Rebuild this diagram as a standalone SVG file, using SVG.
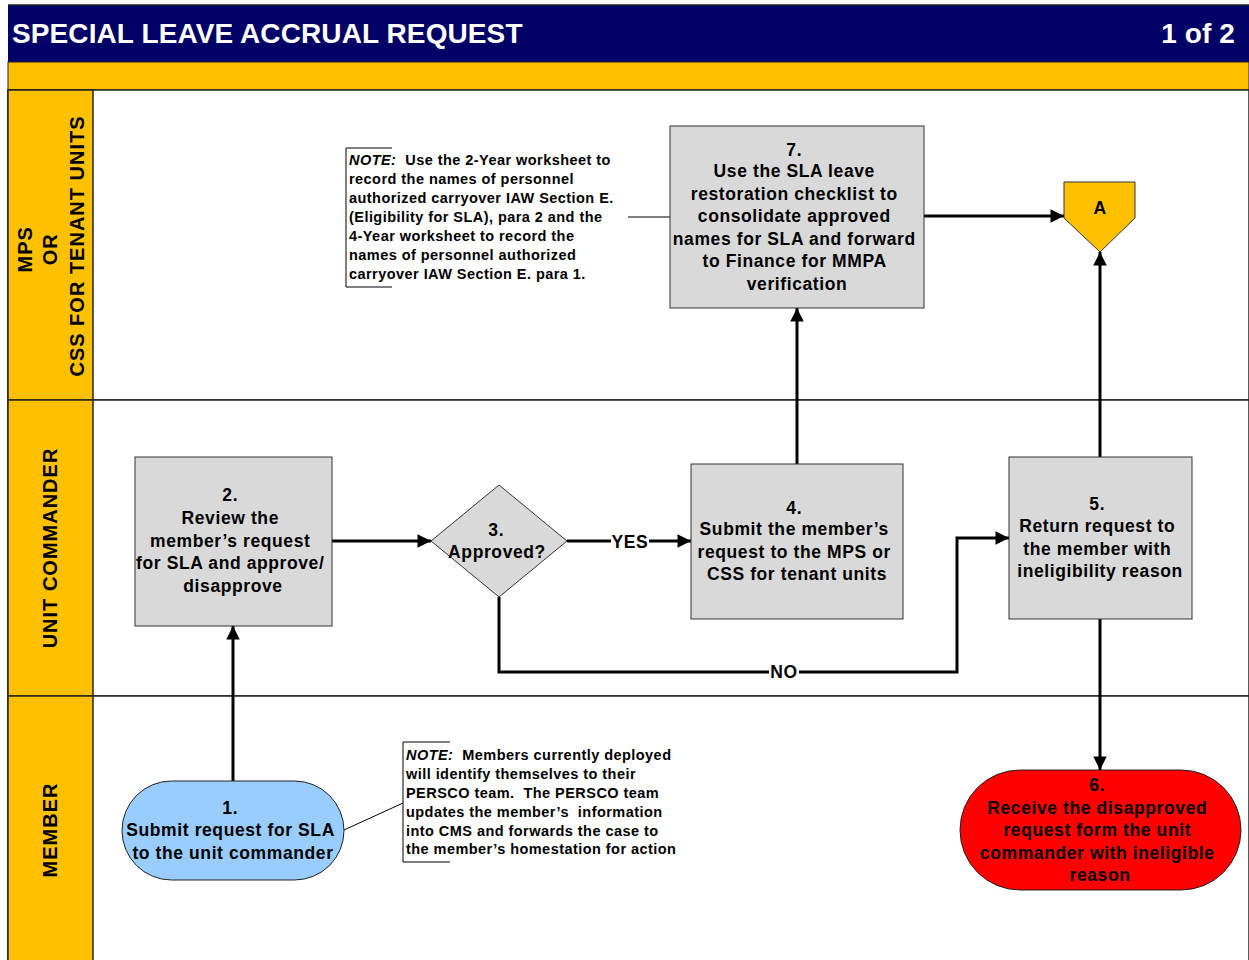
<svg xmlns="http://www.w3.org/2000/svg" width="1249" height="960" viewBox="0 0 1249 960">
  <style>
    text { font-family: "Liberation Sans", Arial, sans-serif; font-weight: bold; fill: #000; }
    .title { font-size: 28px; fill: #fff; letter-spacing: 0.1px; }
    .lane { font-size: 20px; text-anchor: middle; letter-spacing: 1px; }
    .node { font-size: 17.5px; text-anchor: middle; letter-spacing: 0.6px; }
    .note { font-size: 14.5px; letter-spacing: 0.45px; }
    .lbl { font-size: 17.5px; text-anchor: middle; letter-spacing: 0.6px; }
    .box { fill: #d9d9d9; stroke: #333; stroke-width: 1; }
    .flow { fill: none; stroke: #000; stroke-width: 3; }
    .thin { fill: none; stroke: #000; stroke-width: 1; }
    .lanebg { fill: #ffc000; stroke: #222; stroke-width: 1.5; }
  </style>
  <defs>
    <marker id="arrow" viewBox="0 0 10 10" refX="10" refY="5" markerWidth="5" markerHeight="4.5" markerUnits="strokeWidth" orient="auto">
      <path d="M0,0 L10,5 L0,10 z" fill="#000"/>
    </marker>
  </defs>

  <rect x="0" y="0" width="1249" height="960" fill="#fff"/>

  <!-- header band -->
  <g id="header">
    <rect x="8" y="5" width="1241" height="57" fill="#000066"/>
    <line x1="8" y1="5" x2="1249" y2="5" stroke="#222" stroke-width="1.5"/>
    <rect x="8" y="62" width="1241" height="28" fill="#ffc000" stroke="#222" stroke-width="1"/>
    <text class="title" x="12" y="43">SPECIAL LEAVE ACCRUAL REQUEST</text>
    <text class="title" x="1235" y="43" text-anchor="end">1 of 2</text>
  </g>

  <!-- swimlanes -->
  <g id="lanes">
    <rect x="8" y="90" width="1241" height="310" fill="#fff" stroke="#222" stroke-width="1.5"/>
    <rect x="8" y="400" width="1241" height="296" fill="#fff" stroke="#222" stroke-width="1.5"/>
    <rect x="8" y="696" width="1241" height="270" fill="#fff" stroke="#222" stroke-width="1.5"/>
    <rect class="lanebg" x="8" y="90" width="85" height="310"/>
    <rect class="lanebg" x="8" y="400" width="85" height="296"/>
    <rect class="lanebg" x="8" y="696" width="85" height="270"/>
    <text class="lane" transform="translate(50,246) rotate(-90)">
      <tspan x="0" y="-18">MPS</tspan>
      <tspan x="0" y="7">OR</tspan>
      <tspan x="0" y="34">CSS FOR TENANT UNITS</tspan>
    </text>
    <text class="lane" transform="translate(57,548) rotate(-90)">UNIT COMMANDER</text>
    <text class="lane" transform="translate(57,830) rotate(-90)">MEMBER</text>
  </g>

  <!-- connectors -->
  <g id="connectors">
    <line class="flow" x1="233" y1="781" x2="233" y2="626" marker-end="url(#arrow)"/>
    <line class="flow" x1="332" y1="541" x2="431" y2="541" marker-end="url(#arrow)"/>
    <line class="flow" x1="567" y1="541" x2="691" y2="541" marker-end="url(#arrow)"/>
    <polyline class="flow" points="499,597 499,672 957,672 957,538 1009,538" marker-end="url(#arrow)"/>
    <line class="flow" x1="797" y1="464" x2="797" y2="308" marker-end="url(#arrow)"/>
    <line class="flow" x1="924" y1="216" x2="1064" y2="216" marker-end="url(#arrow)"/>
    <line class="flow" x1="1100" y1="457" x2="1100" y2="252" marker-end="url(#arrow)"/>
    <line class="flow" x1="1100" y1="619" x2="1100" y2="770" marker-end="url(#arrow)"/>
    <!-- branch labels -->
    <rect x="611" y="532" width="38" height="18" fill="#fff"/>
    <text class="lbl" x="630" y="548">YES</text>
    <rect x="769" y="663" width="30" height="18" fill="#fff"/>
    <text class="lbl" x="784" y="678">NO</text>
    <!-- note leaders -->
    <line class="thin" x1="628" y1="217" x2="670" y2="217"/>
    <line class="thin" x1="344" y1="830" x2="403" y2="803"/>
  </g>

  <!-- step 1 -->
  <g id="node1">
    <rect x="122" y="781" width="222" height="99" rx="49.5" fill="#99ccff" stroke="#222" stroke-width="1"/>
    <text class="node">
      <tspan x="233" y="814">1.</tspan>
      <tspan x="233" y="836">Submit request for SLA</tspan>
      <tspan x="233" y="859">to the unit commander</tspan>
    </text>
  </g>

  <!-- step 2 -->
  <g id="node2">
    <rect class="box" x="135" y="457" width="197" height="169"/>
    <text class="node">
      <tspan x="233" y="501">2.</tspan>
      <tspan x="233" y="524">Review the</tspan>
      <tspan x="233" y="547">member’s request</tspan>
      <tspan x="233" y="569">for SLA and approve/</tspan>
      <tspan x="233" y="592">disapprove</tspan>
    </text>
  </g>

  <!-- step 3 decision -->
  <g id="node3">
    <polygon class="box" points="499,485 567,541 499,597 431,541"/>
    <text class="node">
      <tspan x="499" y="536">3.</tspan>
      <tspan x="497" y="558">Approved?</tspan>
    </text>
  </g>

  <!-- step 4 -->
  <g id="node4">
    <rect class="box" x="691" y="464" width="212" height="155"/>
    <text class="node">
      <tspan x="797" y="514">4.</tspan>
      <tspan x="797" y="535">Submit the member’s</tspan>
      <tspan x="797" y="558">request to the MPS or</tspan>
      <tspan x="797" y="580">CSS for tenant units</tspan>
    </text>
  </g>

  <!-- step 5 -->
  <g id="node5">
    <rect class="box" x="1009" y="457" width="183" height="162"/>
    <text class="node">
      <tspan x="1100" y="510">5.</tspan>
      <tspan x="1100" y="532">Return request to</tspan>
      <tspan x="1100" y="555">the member with</tspan>
      <tspan x="1100" y="577">ineligibility reason</tspan>
    </text>
  </g>

  <!-- step 6 -->
  <g id="node6">
    <rect x="960" y="770" width="281" height="120" rx="60" fill="#ff0000" stroke="#222" stroke-width="1"/>
    <text class="node">
      <tspan x="1100" y="791">6.</tspan>
      <tspan x="1100" y="814">Receive the disapproved</tspan>
      <tspan x="1100" y="836">request form the unit</tspan>
      <tspan x="1100" y="859">commander with ineligible</tspan>
      <tspan x="1100" y="881">reason</tspan>
    </text>
  </g>

  <!-- step 7 -->
  <g id="node7">
    <rect class="box" x="670" y="126" width="254" height="182"/>
    <text class="node">
      <tspan x="797" y="156">7.</tspan>
      <tspan x="797" y="177">Use the SLA leave</tspan>
      <tspan x="797" y="200">restoration checklist to</tspan>
      <tspan x="797" y="222">consolidate approved</tspan>
      <tspan x="797" y="245">names for SLA and forward</tspan>
      <tspan x="797" y="267">to Finance for MMPA</tspan>
      <tspan x="797" y="290">verification</tspan>
    </text>
  </g>

  <!-- off-page connector A -->
  <g id="connectorA">
    <polygon points="1064,182 1135,182 1135,218 1100,252 1064,218" fill="#ffc000" stroke="#333" stroke-width="1"/>
    <text class="node" x="1100" y="214">A</text>
  </g>

  <!-- annotation: worksheets -->
  <g id="note1">
    <polyline class="thin" points="392,148 346,148 346,287 392,287"/>
    <text class="note">
      <tspan x="349" y="165"><tspan font-style="italic">NOTE:</tspan>&#160; Use the 2-Year worksheet to</tspan>
      <tspan x="349" y="184">record the names of personnel</tspan>
      <tspan x="349" y="203">authorized carryover IAW Section E.</tspan>
      <tspan x="349" y="222">(Eligibility for SLA), para 2 and the</tspan>
      <tspan x="349" y="241">4-Year worksheet to record the</tspan>
      <tspan x="349" y="260">names of personnel authorized</tspan>
      <tspan x="349" y="279">carryover IAW Section E. para 1.</tspan>
    </text>
  </g>

  <!-- annotation: deployed members -->
  <g id="note2">
    <polyline class="thin" points="450,742 403,742 403,862 450,862"/>
    <text class="note">
      <tspan x="406" y="760"><tspan font-style="italic">NOTE:</tspan>&#160; Members currently deployed</tspan>
      <tspan x="406" y="779">will identify themselves to their</tspan>
      <tspan x="406" y="798">PERSCO team.&#160; The PERSCO team</tspan>
      <tspan x="406" y="817">updates the member’s&#160; information</tspan>
      <tspan x="406" y="836">into CMS and forwards the case to</tspan>
      <tspan x="406" y="854">the member’s homestation for action</tspan>
    </text>
  </g>
</svg>
